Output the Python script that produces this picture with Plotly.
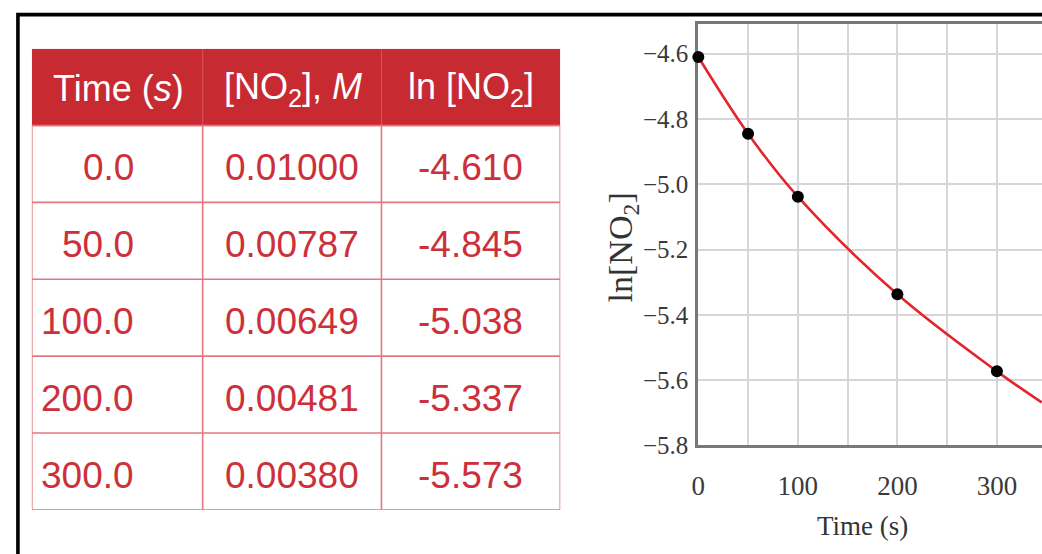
import plotly.graph_objects as go

# Kinetics data for the decomposition of NO2
time_s = [0.0, 50.0, 100.0, 200.0, 300.0]
no2_molar = [0.01000, 0.00787, 0.00649, 0.00481, 0.00380]
ln_no2 = [-4.610, -4.845, -5.038, -5.337, -5.573]

# Smooth trend drawn through the measurements and on past the last one
trend_t = [0.0, 50.0, 100.0, 200.0, 300.0, 345.0]
trend_ln = [-4.610, -4.845, -5.038, -5.337, -5.573, -5.668]

table_headers = ["Time (<i>s</i>)", "[NO<sub>2</sub>], <i>M</i>", "ln [NO<sub>2</sub>]"]
x_tick_vals = [0, 100, 200, 300]
y_tick_vals = [-5.8, -5.6, -5.4, -5.2, -5.0, -4.8, -4.6]

W, H = 1042, 554
RED = "rgb(200,42,50)"
TEXT_RED = "rgb(204,48,58)"
CELL_LINE = "rgb(226,120,130)"
SERIF = "Liberation Serif, Times New Roman, serif"
SANS = "Liberation Sans, Arial, sans-serif"


def px(x):
    return x / W


def py(y):
    return 1 - y / H


fig = go.Figure()

# ---- ln[NO2] vs time plot ----
fig.add_trace(go.Scatter(
    x=trend_t, y=trend_ln, mode="lines",
    line=dict(color="rgb(226,38,44)", width=2.6, shape="spline", smoothing=1.0),
    hoverinfo="skip", showlegend=False, xaxis="x", yaxis="y",
))
fig.add_trace(go.Scatter(
    x=time_s, y=ln_no2, mode="markers",
    marker=dict(color="black", size=12),
    cliponaxis=False, showlegend=False, xaxis="x", yaxis="y",
))

# ---- data table, laid out on a hidden pair of axes ----
col_edges = [0, 172, 352, 532]          # x2 units
n_rows = len(time_s) + 1                # header + data rows
col_anchor = [(105, "right"), (262, "center"), (442, "center")]
header_x = [87, 263, 442]

shapes = []
# header band
shapes.append(dict(type="rect", xref="x2", yref="y2", x0=col_edges[0], x1=col_edges[-1],
                   y0=0, y1=1, fillcolor=RED, line=dict(width=0), layer="below"))
# row separators and outer border
for r in range(1, n_rows + 1):
    shapes.append(dict(type="line", xref="x2", yref="y2", x0=col_edges[0], x1=col_edges[-1],
                       y0=r, y1=r, line=dict(color=CELL_LINE, width=1.6)))
for c in col_edges:
    shapes.append(dict(type="line", xref="x2", yref="y2", x0=c, x1=c,
                       y0=1, y1=n_rows, line=dict(color=CELL_LINE, width=1.6)))
for c in col_edges[1:-1]:
    shapes.append(dict(type="line", xref="x2", yref="y2", x0=c, x1=c,
                       y0=0, y1=1, line=dict(color="rgba(235,150,155,0.35)", width=1.2)))

# black frame around the whole figure
shapes.append(dict(type="rect", xref="paper", yref="paper", x0=px(11), y0=py(15),
                   x1=1.2, y1=-0.2, line=dict(color="black", width=3.6), layer="above"))

annotations = []
for i, h in enumerate(table_headers):
    annotations.append(dict(xref="x2", yref="y2", x=header_x[i], y=0.52, text=h,
                            showarrow=False, xanchor="center", yanchor="middle",
                            font=dict(family=SANS, size=36, color="white")))

rows = list(zip([f"{t:.1f}" for t in time_s],
                [f"{c:.5f}" for c in no2_molar],
                [f"{v:.3f}" for v in ln_no2]))
for r, row in enumerate(rows):
    for c, txt in enumerate(row):
        xa, anchor = col_anchor[c]
        annotations.append(dict(xref="x2", yref="y2", x=xa, y=r + 1.55, text=txt,
                                showarrow=False, xanchor=anchor, yanchor="middle",
                                font=dict(family=SANS, size=37, color=TEXT_RED)))

# axis titles
annotations.append(dict(xref="paper", yref="paper", x=px(620), y=py(254),
                        text="ln[NO<sub>2</sub>]", textangle=-90, showarrow=False,
                        xanchor="center", yanchor="middle",
                        font=dict(family=SERIF, size=34, color="#333333")))
annotations.append(dict(xref="paper", yref="paper", x=px(861), y=py(540),
                        text="Time (s)", showarrow=False,
                        xanchor="center", yanchor="middle",
                        font=dict(family=SERIF, size=27, color="#333333")))

GRID = "rgb(214,214,218)"
AXIS = "rgb(120,120,124)"

fig.update_layout(
    width=W, height=H,
    margin=dict(l=0, r=0, t=0, b=0),
    paper_bgcolor="white", plot_bgcolor="white",
    showlegend=False,
    xaxis=dict(
        domain=[px(696), 1.0], range=[0, 345.3], anchor="y",
        tickvals=x_tick_vals, ticks="", showgrid=True, gridcolor=GRID, gridwidth=1.6,
        minor=dict(dtick=50, tick0=0, showgrid=True, gridcolor=GRID, gridwidth=1.6),
        showline=True, linecolor=AXIS, linewidth=3, mirror=True,
        zeroline=False, layer="below traces", ticklabelstandoff=14,
        tickfont=dict(family=SERIF, size=27, color="#3a3a3a"),
    ),
    yaxis=dict(
        domain=[py(457), py(25)], range=[-5.8, -4.51], anchor="x",
        tickvals=y_tick_vals, tickformat=".1f", ticks="", showgrid=True,
        gridcolor=GRID, gridwidth=1.6, ticklabelstandoff=2,
        showline=True, linecolor=AXIS, linewidth=3,
        zeroline=False, layer="below traces",
        tickfont=dict(family=SERIF, size=25, color="#3a3a3a"),
    ),
    xaxis2=dict(domain=[px(25), px(557)], range=[0, 532], visible=False,
                anchor="y2", fixedrange=True),
    yaxis2=dict(domain=[py(523), py(50)], range=[n_rows, 0], visible=False,
                anchor="x2", fixedrange=True),
    shapes=shapes,
    annotations=annotations,
)

fig.write_html("out.html")
